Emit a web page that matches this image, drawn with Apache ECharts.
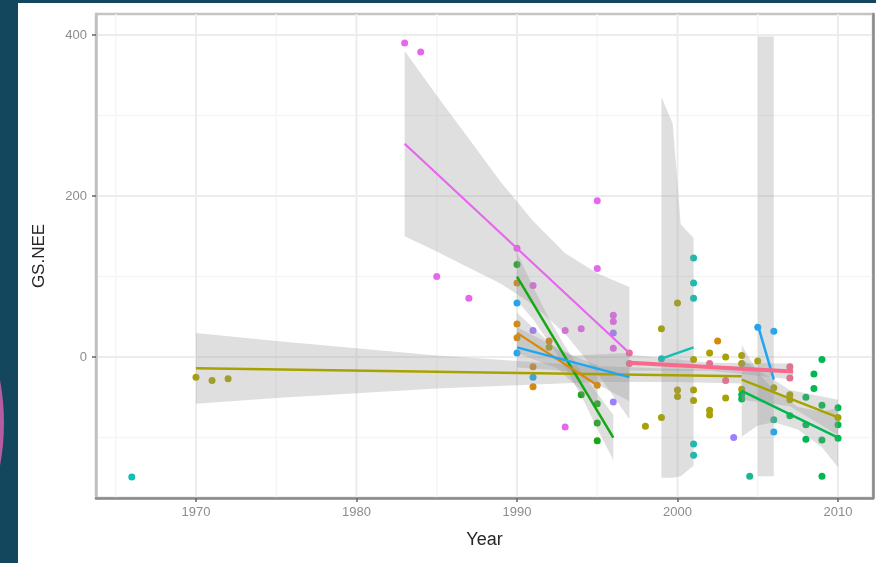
<!DOCTYPE html>
<html><head><meta charset="utf-8">
<script src="https://cdn.jsdelivr.net/npm/echarts@6/dist/echarts.min.js"></script>
<style>html,body{margin:0;padding:0;background:#12475e;}#c{width:876px;height:563px;}</style>
</head><body><div id="c"></div>
<script>
// ---- axes ----
const xTicks = [1970, 1980, 1990, 2000, 2010];
const xMinor = [1965, 1975, 1985, 1995, 2005];
const yTicks = [0, 200, 400];
const yMinor = [-100, 100, 300];
const X_MIN = 1963.77, X_MAX = 2012.18, Y_MIN = -175.1, Y_MAX = 426.1;

// ---- points (Year, GS.NEE) per group ----
const magentaPts = [[1983,390],[1984,379],[1985,100],[1987,73],[1990,135],[1991,89],[1993,33],[1994,35],[1995,194],[1995,110],[1996,52],[1996,44],[1996,11],[1993,-87]];
const purplePts  = [[1991,33],[1996,30],[1996,-56],[2003.5,-100]];
const green1Pts  = [[1990,115],[1994,-47],[1995,-58],[1995,-82],[1995,-104]];
const orangePts  = [[1990,92],[1990,41],[1990,24],[1991,-12],[1991,-37],[1992,20],[1995,-35],[2002.5,20]];
const blue1Pts   = [[1990,67],[1990,5],[1991,-25]];
const blue2Pts   = [[2005,37],[2006,32],[2006,-93]];
const tealPts    = [[1966,-149],[1999,-2],[2001,123],[2001,92],[2001,73],[2001,-108],[2001,-122]];
const olivePts   = [[1970,-25],[1971,-29],[1972,-27],[1992,12],[1998,-86],[1999,35],[1999,-75],[2000,67],[2000,-41],[2000,-49],[2001,-3],[2001,-41],[2001,-54],[2002,5],[2002,-66],[2002,-72],[2003,0],[2003,-51],[2004,2],[2004,-8],[2004,-40],[2005,-5],[2006,-38],[2007,-47],[2007,-53],[2010,-75]];
const pinkPts    = [[1997,5],[1997,-8],[2002,-8],[2003,-29],[2007,-12],[2007,-26]];
const green2Pts  = [[2004,-47],[2004,-52],[2007,-73],[2008,-50],[2008,-84],[2008,-102],[2008.5,-21],[2008.5,-39],[2009,-3],[2009,-60],[2009,-103],[2009,-148],[2010,-63],[2010,-84],[2010,-101]];
const tealGreenPts = [[2004.5,-148],[2006,-78]];

// ---- fitted lines (start, end) ----
const magentaLine = [[1983,265],[1997,5]];
const oliveLine1  = [[1970,-14],[2004,-24]];
const oliveLine2  = [[2004,-28],[2010,-75]];
const green1Line  = [[1990,100],[1996,-100]];
const orangeLine  = [[1990,30],[1995,-35]];
const blue1Line   = [[1990,12],[1997,-25]];
const blue2Line   = [[2005,40],[2006,-28]];
const tealLine    = [[1999,-2],[2001,12]];
const pinkLine    = [[1997,-7],[2007.2,-18]];
const green2Line  = [[2004,-42],[2010,-100]];

// ---- confidence ribbons [Year, lower, upper] ----
const magentaBand = [[1983,150,380],[1985,131,325],[1987,111,271],[1989,91,217],[1991,65,169],[1993,29,129],[1995,-20,104],[1997,-77,87]];
const oliveBand1  = [[1970,-58,30],[1975,-51,20],[1980,-45,11],[1985,-39,2],[1990,-35,-5],[1995,-31,-11],[2000,-31,-15],[2004,-33,-15]];
const oliveBand2  = [[2004,-53,-3],[2007,-61,-41],[2010,-97,-53]];
const green1Band  = [[1990,70,130],[1991,47,87],[1992,18,48],[1993,-13,13],[1994,-48,-18],[1995,-89,-45],[1996,-128,-72]];
const orangeBand  = [[1990,5,55],[1992.5,-14,9],[1995,-60,-10]];
const blue1Band   = [[1990,-13,37],[1993.5,-18,2],[1997,-55,5]];
const blue2Band   = [[2005,-148,398],[2006,-148,398]];
const tealBand    = [[1999,-150,323],[1999.7,-150,290],[2000.2,-148,165],[2001,-135,148]];
const pinkBand    = [[1997,-17,3],[2002,-17,-7],[2007.2,-28,-8]];
const green2Band  = [[2004,-99,15],[2005,-85,-19],[2006,-81,-41],[2007.5,-90,-62],[2009,-112,-68],[2010,-137,-63]];

const C = {
  magenta:'#E866EE', purple:'#A07FFF', green1:'#14A814', orange:'#D68A0A',
  blue:'#1FA6F2', teal:'#12BDB2', olive:'#A8A200', pink:'#F86A8C', green2:'#00B850', tealGreen:'#1CB78C'
};

const chart = echarts.init(document.getElementById('c'), null, {renderer:'canvas'});

function gridLines(vals, vertical, color, width) {
  return {
    type:'custom', silent:true, z:0,
    data: vals.map(v => vertical ? [v, 0] : [X_MIN + 1, v]),
    encode: {x:0, y:1},
    renderItem: (p, api) => {
      const cs = p.coordSys;
      const pt = api.coord([api.value(0), api.value(1)]);
      const shape = vertical ? {x1:pt[0], y1:cs.y, x2:pt[0], y2:cs.y+cs.height}
                             : {x1:cs.x, y1:pt[1], x2:cs.x+cs.width, y2:pt[1]};
      return {type:'line', shape, style:{stroke:color, lineWidth:width}};
    }
  };
}
function scatter(pts, color) {
  return {type:'scatter', data:pts, symbol:'circle', symbolSize:7, z:2, silent:true,
          itemStyle:{color:color, opacity:1}};
}
function band(rows) {
  return {
    type:'custom', silent:true, z:3, clip:true, data:rows, encode:{x:0, y:[1,2]},
    renderItem: (p, api) => {
      if (p.dataIndex !== 0) return;
      const up = rows.map(r => api.coord([r[0], r[2]]));
      const lo = rows.slice().reverse().map(r => api.coord([r[0], r[1]]));
      return {type:'polygon', shape:{points:up.concat(lo)}, style:{fill:'rgba(150,150,150,0.3)'}};
    }
  };
}
function fit(pts, color, w) {
  return {type:'line', data:pts, showSymbol:false, symbol:'none', z:4, silent:true,
          lineStyle:{color:color, width:w||2.2}};
}

const series = [
  gridLines(xMinor, true, '#f5f5f5', 1.5),
  gridLines(yMinor, false, '#f5f5f5', 1.5),
  gridLines(xTicks, true, '#ececec', 2),
  gridLines(yTicks, false, '#ececec', 2),
  scatter(olivePts, C.olive), scatter(tealPts, C.teal), scatter(magentaPts, C.magenta),
  scatter(purplePts, C.purple), scatter(green1Pts, C.green1), scatter(orangePts, C.orange),
  scatter(blue1Pts, C.blue), scatter(blue2Pts, C.blue), scatter(pinkPts, C.pink),
  scatter(green2Pts, C.green2), scatter(tealGreenPts, C.tealGreen),
  band(magentaBand), band(oliveBand1), band(oliveBand2), band(green1Band), band(orangeBand),
  band(blue1Band), band(blue2Band), band(tealBand), band(pinkBand), band(green2Band),
  fit(oliveLine1, C.olive, 2.5), fit(magentaLine, C.magenta), fit(green1Line, C.green1, 2.5),
  fit(orangeLine, C.orange), fit(blue1Line, C.blue, 2.5), fit(blue2Line, C.blue, 2.5),
  fit(tealLine, C.teal), fit(pinkLine, C.pink, 4), fit(oliveLine2, C.olive, 2.5), fit(green2Line, C.green2, 2.5)
];

chart.setOption({
  backgroundColor:'#12475e',
  animation:false,
  graphic:[
    {type:'rect', z:-10, silent:true, shape:{x:18, y:3, width:858, height:560}, style:{fill:'#ffffff'}},
    {type:'circle', z:-10, silent:true, shape:{cx:-229, cy:423, r:233}, style:{fill:'#B45CA4'}}
  ],
  grid:{left:96, top:14, right:3, bottom:65, show:true, borderColor:'#c4c4c4', borderWidth:2.5, backgroundColor:'transparent'},
  xAxis:{
    type:'value', min:X_MIN, max:X_MAX,
    name:'Year', nameLocation:'middle', nameGap:33,
    nameTextStyle:{color:'#262626', fontSize:18, fontFamily:'Liberation Sans'},
    splitLine:{show:false},
    axisLine:{show:true, onZero:false, lineStyle:{color:'#8a8a8a', width:2.5}},
    axisTick:{show:true, customValues:xTicks, length:4, lineStyle:{color:'#666', width:1.5}},
    axisLabel:{customValues:xTicks, formatter:v => String(v), color:'#8c8c8c', fontSize:13, margin:8, fontFamily:'Liberation Sans'}
  },
  yAxis:[{
    type:'value', min:Y_MIN, max:Y_MAX,
    name:'GS.NEE', nameLocation:'middle', nameGap:48, nameRotate:90,
    nameTextStyle:{color:'#262626', fontSize:17, fontFamily:'Liberation Sans'},
    splitLine:{show:false},
    axisLine:{show:true, onZero:false, lineStyle:{color:'#c0c0c0', width:2.5}},
    axisTick:{show:true, customValues:yTicks, length:4, lineStyle:{color:'#666', width:1.5}},
    axisLabel:{customValues:yTicks, formatter:v => String(v), color:'#8c8c8c', fontSize:13, margin:9, fontFamily:'Liberation Sans'}
  },{
    type:'value', min:Y_MIN, max:Y_MAX, position:'right',
    splitLine:{show:false}, axisTick:{show:false}, axisLabel:{show:false},
    axisLine:{show:true, onZero:false, lineStyle:{color:'#8a8a8a', width:2.5}}
  }],
  series: series
});
</script></body></html>
